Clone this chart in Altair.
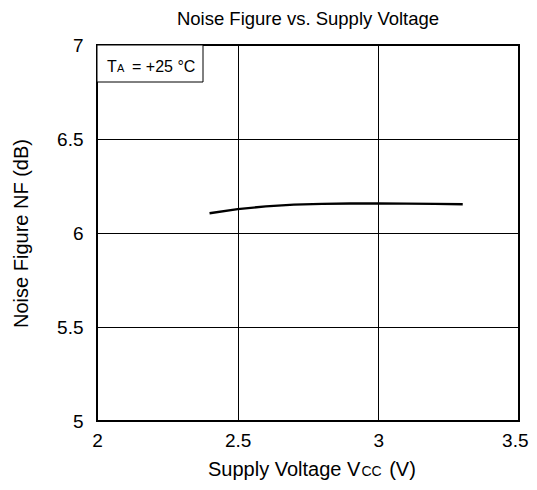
import altair as alt
import pandas as pd

# Data
vcc = [2.4, 2.5, 2.6, 2.7, 2.8, 2.9, 3.0, 3.1, 3.2, 3.3]
nf = [6.105, 6.127, 6.142, 6.151, 6.155, 6.157, 6.157, 6.156, 6.155, 6.153]
x_ticks = [2, 2.5, 3, 3.5]
y_ticks = [5, 5.5, 6, 6.5, 7]

df = pd.DataFrame({"vcc": vcc, "nf": nf})

FONT = "Liberation Sans"
W, H = 422, 376

last = "datum.value === 3.5"
line = alt.Chart(df).mark_line(color="black", strokeWidth=2.3).encode(
    x=alt.X("vcc:Q", scale=alt.Scale(domain=[2, 3.5], nice=False),
            axis=alt.Axis(values=x_ticks, format="~g", title=None, grid=True,
                          ticks=False, labelPadding=10, domain=False,
                          labelFlush=False,
                          labelAlign={"condition": {"test": last, "value": "right"},
                                      "value": "center"},
                          labelOffset={"condition": {"test": last, "value": 9},
                                       "value": 0})),
    y=alt.Y("nf:Q", scale=alt.Scale(domain=[5, 7], nice=False),
            axis=alt.Axis(values=y_ticks, format="~g", title="Noise Figure NF (dB)",
                          grid=True, ticks=False, labelPadding=14, domain=False,
                          titlePadding=25, labelFlush=False)),
)

# legend box
box = alt.Chart(pd.DataFrame({"a": [0]})).mark_rect(
    fill="white", stroke="black", strokeWidth=1
).encode(x=alt.value(0), x2=alt.value(106), y=alt.value(0), y2=alt.value(37))


def txt(s, x, y, size, align="left"):
    return alt.Chart(pd.DataFrame({"t": [s]})).mark_text(
        font=FONT, fontSize=size, align=align, baseline="alphabetic", color="black"
    ).encode(text="t:N", x=alt.value(x), y=alt.value(y))


leg = [txt("T", 10, 27, 16), txt("A", 20, 27, 11), txt("= +25 °C", 35, 27, 16)]

# x-axis title with subscript
F, S = 20, 14
x0 = 111
w1 = 7.671 * F
w2 = 1.444 * S + 2
YT = 431
xt = [txt("Supply Voltage V", x0, YT, F),
      txt("CC", x0 + w1, YT, S),
      txt("(V)", x0 + w1 + w2 + 5.5, YT, F)]

chart = alt.layer(line, box, *leg, *xt).properties(
    width=W, height=H,
    title=alt.TitleParams("Noise Figure vs. Supply Voltage", font=FONT, fontSize=18.5,
                          fontWeight="normal", color="black", anchor="middle",
                          frame="group", offset=8),
    autosize=alt.AutoSizeParams(type="none"),
    padding={"left": 89, "top": 37, "right": 10, "bottom": 61},
).configure_view(
    stroke="black", strokeWidth=2
).configure_axis(
    gridColor="black", gridWidth=1, gridOpacity=1,
    labelFont=FONT, labelFontSize=19, labelColor="black",
    titleFont=FONT, titleFontSize=20, titleColor="black", titleFontWeight="normal",
)

chart.save("out.html", embed_options={"renderer": "svg", "actions": False})
